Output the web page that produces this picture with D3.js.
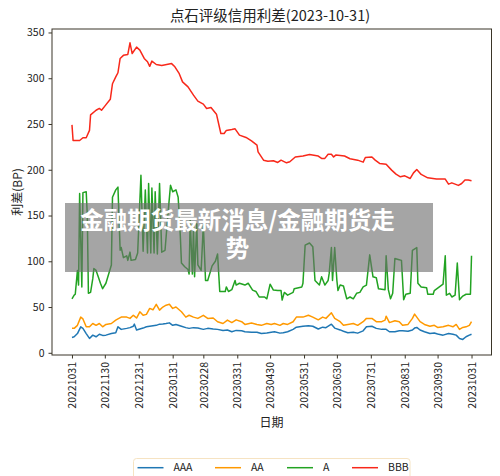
<!DOCTYPE html>
<html>
<head>
<meta charset="utf-8">
<script src="https://cdn.jsdelivr.net/npm/d3@7"></script>
<style>
    body { margin: 0; background: #fff; }
    svg { display: block; font-family: "Noto Sans CJK SC", "Noto Sans", sans-serif; }
</style>
</head>
<body>
<div id="chart"></div>
<script>
// series names and colours
var seriesNames = ["AAA", "AA", "A", "BBB"];
var seriesColors = ["#1f77b4", "#ff9900", "#22a322", "#f8281a"];

// AAA and AA share the same sample dates
var ratedDates = ["20221031","20221102","20221105","20221108","20221110","20221113","20221116","20221119","20221122","20221125",
    "20221128","20221201","20221206","20221210","20221212","20221215","20221220","20221223","20221226","20221227",
    "20221229","20230101","20230104","20230107","20230110","20230113","20230116","20230119","20230122","20230125",
    "20230128","20230131","20230203","20230208","20230212","20230215","20230219","20230223","20230228","20230304",
    "20230309","20230313","20230318","20230322","20230326","20230330","20230404","20230407","20230413","20230418",
    "20230422","20230427","20230501","20230504","20230509","20230512","20230516","20230521","20230524","20230530",
    "20230604","20230608","20230613","20230617","20230620","20230625","20230628","20230703","20230706","20230710",
    "20230715","20230719","20230724","20230727","20230801","20230805","20230810","20230813","20230814","20230817",
    "20230822","20230826","20230829","20230903","20230907","20230909","20230911","20230914","20230918","20230923",
    "20230927","20230930","20231005","20231010","20231014","20231017","20231020","20231023","20231026","20231029","20231031"];

var aaaValues = [16.8,17.5,21,28.4,26.7,21,15.7,19.3,17.5,20.3,
    19,19.3,21,22,28.4,25.6,26.7,27.5,29,31.3,
    24.9,26,27,28.4,29,29.5,30,31.3,31.5,32,
    32.7,30,31,29,27.5,26.7,27.5,27,25.6,26.7,
    26,25.6,24.3,24.9,23,24.5,24,23,22.5,22.5,
    21,21.6,22.5,23,21.5,22,23,25.6,28,29,
    29.5,29,26,28,27.5,31.3,27,25,23.5,22,
    22.5,21.5,24,28.4,29,26.7,25.6,25.6,25.6,23,
    23,24,24,23.5,24.9,27,27.7,24.9,23,21,
    21.6,20.5,19.3,21,20.3,19.3,15.7,14.6,17.5,19.3,20.3];

var aaValues = [26.7,26.7,30,39,37,28.4,28.4,32,30,32,
    28.4,31,32,35.7,37,39,39,37.6,41,40,
    38,44.8,41,42,48.5,47,53,46.6,50,52,
    53,48.5,50,44.8,39,41,39,37.6,41,37.6,
    38,33.9,32,35.7,33,36,34,31,32.5,31,
    30,32,31,32,30,32,31,33.9,39,39,
    41,39,36,39,37.6,43.7,37.6,34,30,31,
    32,30,34,37.6,37.6,34,34,35.7,40,33,
    35,34,30,31,37.6,42.3,39,34,31,29,
    30,27.7,28.4,30,28.4,31,25.6,27.7,28.4,30,34];

// A grade, sampled more densely because of the spikes
var aDates = ["20221031","20221102","20221103","20221105","20221106","20221107","20221109","20221110","20221113","20221114",
    "20221115","20221117","20221119","20221120","20221122","20221124","20221126","20221128","20221201","20221204",
    "20221206","20221207","20221210","20221212","20221214","20221215","20221217","20221220","20221221","20221223",
    "20221224","20221228","20221230","20230102","20230104","20230106","20230108","20230109","20230111","20230112",
    "20230114","20230115","20230117","20230119","20230121","20230124","20230127","20230129","20230131","20230203",
    "20230205","20230207","20230208","20230211","20230214","20230215","20230216","20230218","20230219","20230220",
    "20230222","20230223","20230226","20230228","20230302","20230304","20230308","20230311","20230313","20230315",
    "20230320","20230321","20230323","20230326","20230329","20230330","20230402","20230407","20230410","20230414",
    "20230417","20230420","20230425","20230427","20230430","20230503","20230507","20230510","20230511","20230513",
    "20230516","20230521","20230522","20230529","20230530","20230601","20230605","20230608","20230610","20230614",
    "20230616","20230619","20230622","20230623","20230625","20230626","20230628","20230630","20230701","20230703",
    "20230706","20230709","20230712","20230715","20230718","20230721","20230724","20230727","20230730","20230802",
    "20230805","20230807","20230813","20230814","20230816","20230818","20230820","20230822","20230825","20230828",
    "20230830","20230901","20230905","20230907","20230911","20230912","20230915","20230920","20230921","20230926",
    "20230927","20231005","20231007","20231008","20231011","20231013","20231016","20231018","20231020","20231023",
    "20231026","20231030","20231031"];

var aValues = [59,63,64,90,74,174,72,175,176,150,
    65,66,81,92,90,83,76,70,76,88,
    96,170,178,181,112,115,104,106,101,110,
    101,102,109,194,111,178,109,185,109,180,
    109,176,108,185,110,112,156,183,176,178,
    170,127,98,94,91,86,145,86,138,83,
    141,96,90,140,79,79,95,100,108,67,
    67,72,67,69,79,74,76,74,76,68.5,
    67,61,61,59,75,68.5,68,68,57.6,66,
    63,66,70,72,76,117.6,120,116,79,74,
    83,74,79,87,115,79,115,79,68,74,
    73,59,61,59,65,66,72,74,107,83,
    82,70,69,106,69,59,65,103,102,101,
    58,64,65,112,115,76,72,71,64,64,
    68,75,106,63,65,61,63,98,58,62,
    64,64,106];

var bbbDates = ["20221031","20221101","20221107","20221110","20221113","20221116","20221117","20221122","20221125","20221127",
    "20221130","20221205","20221207","20221210","20221212","20221214","20221217","20221221","20221223","20221225",
    "20221229","20230101","20230105","20230108","20230110","20230112","20230116","20230121","20230130","20230202",
    "20230206","20230209","20230214","20230219","20230223","20230228","20230303","20230307","20230312","20230316",
    "20230319","20230321","20230326","20230329","20230402","20230408","20230413","20230418","20230419","20230424",
    "20230428","20230503","20230507","20230510","20230515","20230518","20230523","20230530","20230605","20230613",
    "20230616","20230619","20230622","20230625","20230627","20230629","20230707","20230712","20230719","20230724",
    "20230726","20230801","20230804","20230808","20230814","20230819","20230823","20230827","20230831","20230905",
    "20230908","20230911","20230915","20230921","20230929","20231007","20231010","20231013","20231016","20231019",
    "20231022","20231025","20231028","20231031"];

var bbbValues = [249,232,232,235,235,243,260,265,267,265,
    269.5,277,294,301.5,306,321.6,325,326,338.7,327,
    334,330.7,321.6,318,313,318.7,315,314,316,312.5,
    305,296,290.6,281.5,275,271.7,267,268,260.7,239.6,
    239.6,243,244,244.7,237.8,235.3,231.6,227,219.6,210.5,
    209.4,209.8,208,210.5,207.6,208.7,214,215,216.7,215,
    212.4,212.4,217,217,214,216,215,212,210.5,208.3,
    213.4,214,210.5,206.9,206,199.6,195.2,192.3,193.4,190.5,
    196.6,200.3,194.9,191.2,190,189.8,184.3,185.7,184.3,182.9,
    185,188.7,188.7,188];

// tick labels
var xTickLabels = ["20221031","20221130","20221231","20230131","20230228","20230331","20230430",
    "20230531","20230630","20230731","20230831","20230930","20231031"];
var yTickValues = [0, 50, 100, 150, 200, 250, 300, 350];

var titleText = "点石评级信用利差(2023-10-31)";
var xLabelText = "日期";
var yLabelText = "利差(BP)";
var overlayLines = ["金融期货最新消息/金融期货走", "势"];

var parseDate = d3.timeParse("%Y%m%d");

// build series for d3.line
function makeSeries(dates, values) {
    return dates.map(function(d, i) {
        return { date: parseDate(d), value: values[i] };
    });
}
var series = [
    makeSeries(ratedDates, aaaValues),
    makeSeries(ratedDates, aaValues),
    makeSeries(aDates, aValues),
    makeSeries(bbbDates, bbbValues)
];

var width = 500, height = 476;
var margin = { top: 29, right: 8.5, bottom: 121, left: 52 };
var plotW = width - margin.left - margin.right;
var plotH = height - margin.top - margin.bottom;

var svg = d3.select("#chart").append("svg")
    .attr("width", width)
    .attr("height", height);

// x: time scale with 5% padding each side (like matplotlib)
var xStart = parseDate(xTickLabels[0]), xEnd = parseDate(xTickLabels[xTickLabels.length - 1]);
var xPad = (xEnd - xStart) * 0.05;
var xScale = d3.scaleTime()
    .domain([new Date(+xStart - xPad), new Date(+xEnd + xPad)])
    .range([margin.left, margin.left + plotW]);

var yScale = d3.scaleLinear()
    .domain([-2.4, 353.8])
    .range([margin.top + plotH, margin.top]);

// lines
var line = d3.line()
    .x(function(d) { return xScale(d.date); })
    .y(function(d) { return yScale(d.value); });

svg.append("g").selectAll("path")
    .data(series)
    .enter()
    .append("path")
    .attr("d", line)
    .attr("fill", "none")
    .attr("stroke", function(d, i) { return seriesColors[i]; })
    .attr("stroke-width", 1.5)
    .attr("stroke-linejoin", "round");

// frame
svg.append("rect")
    .attr("x", margin.left)
    .attr("y", margin.top)
    .attr("width", plotW)
    .attr("height", plotH)
    .attr("fill", "none")
    .attr("stroke", "#3a3528")
    .attr("stroke-width", 1);

// x axis
var xAxis = svg.append("g")
    .attr("transform", "translate(0," + (margin.top + plotH) + ")")
    .call(d3.axisBottom(xScale)
        .tickValues(xTickLabels.map(parseDate))
        .tickFormat(d3.timeFormat("%Y%m%d"))
        .tickSize(3.5)
        .tickPadding(3.5));
xAxis.select(".domain").remove();
xAxis.selectAll("line").attr("stroke", "#3a3528");
xAxis.selectAll("text")
    .attr("font-size", 10.5)
    .attr("fill", "#222")
    .attr("font-family", "Noto Sans CJK SC")
    .attr("transform", "rotate(-90)")
    .attr("text-anchor", "end")
    .attr("x", -7)
    .attr("y", 0)
    .attr("dy", "0.35em");

// y axis
var yAxis = svg.append("g")
    .attr("transform", "translate(" + margin.left + ",0)")
    .call(d3.axisLeft(yScale)
        .tickValues(yTickValues)
        .tickSize(3.5)
        .tickPadding(4));
yAxis.select(".domain").remove();
yAxis.selectAll("line").attr("stroke", "#3a3528");
yAxis.selectAll("text")
    .attr("font-size", 10.5)
    .attr("fill", "#222")
    .attr("font-family", "Noto Sans CJK SC");

// title and axis labels
svg.append("text")
    .attr("x", 270)
    .attr("y", 21)
    .attr("text-anchor", "middle")
    .attr("font-size", 14.5)
    .attr("fill", "#222")
    .text(titleText);

svg.append("text")
    .attr("x", 271.5)
    .attr("y", 427)
    .attr("text-anchor", "middle")
    .attr("font-size", 12)
    .attr("fill", "#222")
    .text(xLabelText);

svg.append("text")
    .attr("transform", "translate(22,192) rotate(-90)")
    .attr("text-anchor", "middle")
    .attr("font-size", 12)
    .attr("fill", "#222")
    .text(yLabelText);

// legend (runs off the bottom edge)
var legend = svg.append("g");
legend.append("rect")
    .attr("x", 133.5)
    .attr("y", 458.5)
    .attr("width", 276.5)
    .attr("height", 26)
    .attr("rx", 3)
    .attr("fill", "#fff")
    .attr("stroke", "#f6e3c2");

var legendX = [137.5, 215, 287, 352];
var legendItems = legend.selectAll(".legend-item")
    .data(seriesNames)
    .enter()
    .append("g")
    .attr("class", "legend-item")
    .attr("transform", function(d, i) { return "translate(" + legendX[i] + ",467.7)"; });
legendItems.append("line")
    .attr("x1", 0).attr("x2", 26)
    .attr("stroke", function(d, i) { return seriesColors[i]; })
    .attr("stroke-width", 1.5);
legendItems.append("text")
    .attr("x", 36)
    .attr("dy", "0.35em")
    .attr("font-size", 10.5)
    .attr("fill", "#222")
    .text(function(d) { return d; });

// grey banner with white text over the chart
svg.append("rect")
    .attr("x", 65)
    .attr("y", 203)
    .attr("width", 368)
    .attr("height", 69)
    .attr("fill", "rgba(110,110,110,0.62)");

svg.append("g").selectAll("text")
    .data(overlayLines)
    .enter()
    .append("text")
    .attr("x", 237.5)
    .attr("y", function(d, i) { return 229 + i * 28; })
    .attr("text-anchor", "middle")
    .attr("font-size", 23.5)
    .attr("font-weight", "bold")
    .attr("fill", "#fff")
    .text(function(d) { return d; });
</script>
</body>
</html>
